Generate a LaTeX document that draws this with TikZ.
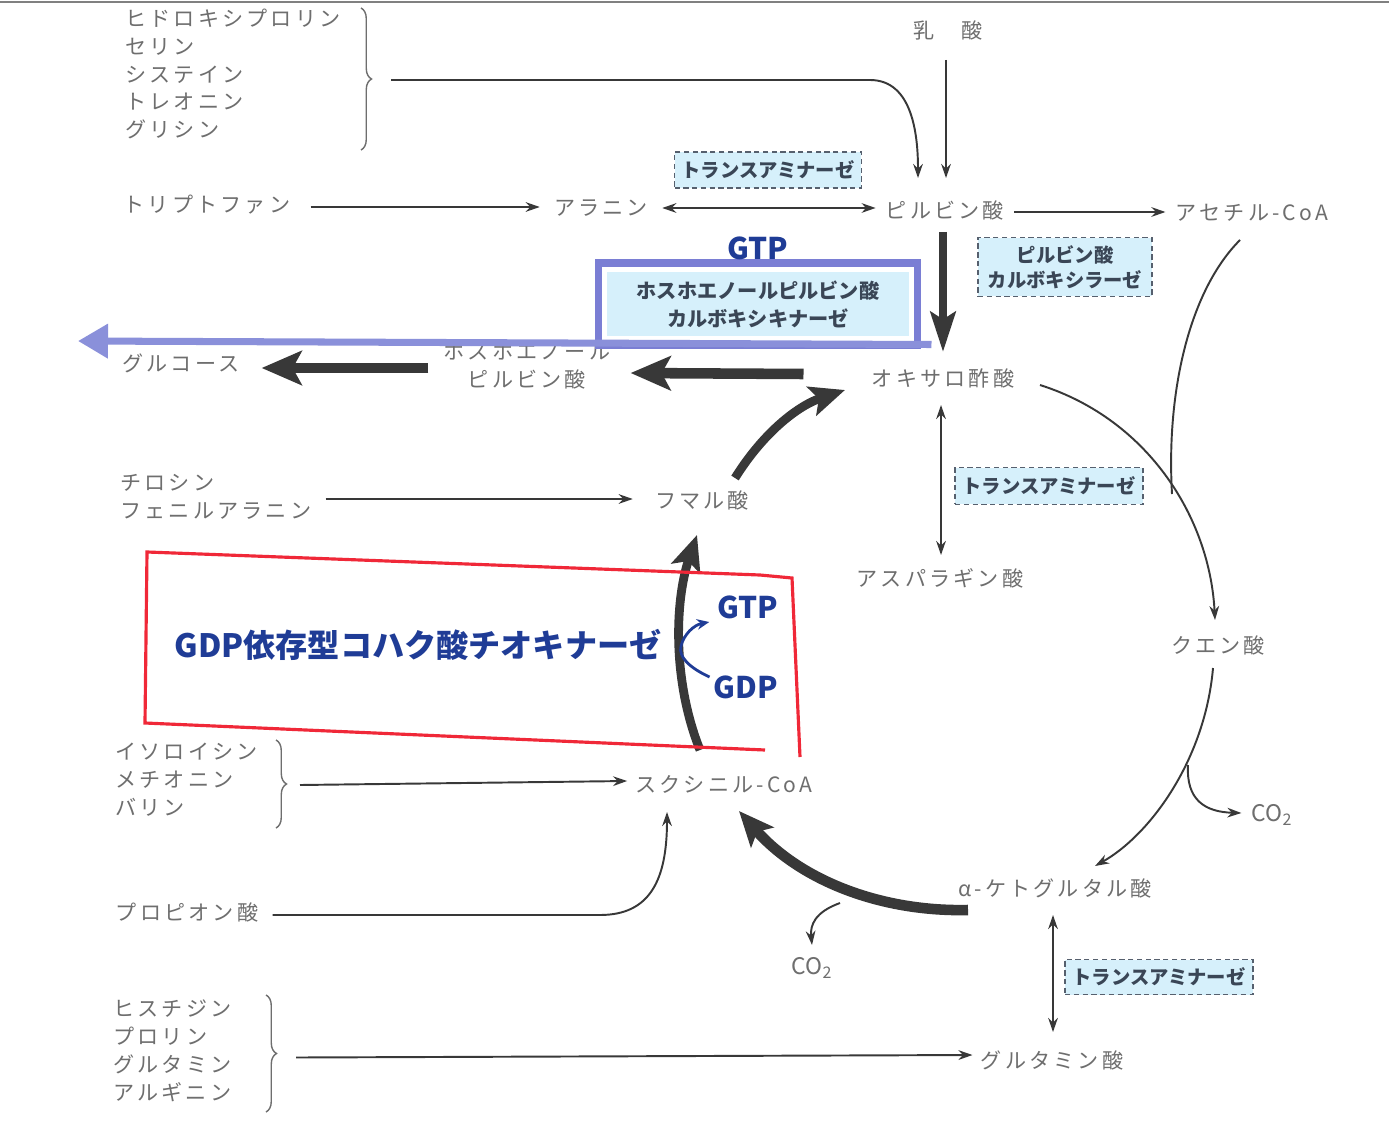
\documentclass[tikz,border=0pt]{standalone}
\usepackage{fontspec}
\setmainfont{Noto Sans CJK JP}
\newfontfamily\jpl[LetterSpace=15]{Noto Sans CJK JP}
\usetikzlibrary{arrows.meta,decorations.pathreplacing,calc}
\definecolor{labgray}{HTML}{6E6E6E}
\definecolor{arrgray}{HTML}{383838}
\definecolor{enzfill}{HTML}{D6F0FB}
\definecolor{enzline}{HTML}{56606E}
\definecolor{enztext}{HTML}{3A4656}
\definecolor{bluetxt}{HTML}{1F3C96}
\definecolor{blueline}{HTML}{8A90DA}
\definecolor{pepbord}{HTML}{7A7ED4}
\definecolor{redbox}{HTML}{F02838}
\tikzset{
  lbl/.style={text=labgray, font=\jpl\fontsize{12}{15.9}\selectfont, inner sep=0pt, align=left},
  enz/.style={draw=enzline, densely dashed, line width=0.8pt, fill=enzfill, text=enztext,
              font=\bfseries\fontsize{11}{14}\selectfont, inner sep=0pt, align=center},
  thinarr/.style={draw=arrgray, line width=1.1pt, -{Stealth[length=8pt,width=5.5pt]}},
  dblarr/.style={draw=arrgray, line width=1.1pt, {Stealth[length=8pt,width=5.5pt]}-{Stealth[length=8pt,width=5.5pt]}},
  thickarr/.style={draw=arrgray, line width=6pt, -{Stealth[length=0.8cm,width=0.68cm,inset=0.18cm]}},
  vthick/.style={draw=arrgray, line width=4.5pt, -{Stealth[length=0.8cm,width=0.5cm,inset=0.15cm]}},
  cycthick/.style={draw=arrgray, line width=5pt, -{Stealth[length=0.7cm,width=0.6cm,inset=0.15cm]}},
  brc/.style={decorate, decoration={brace, amplitude=6pt}, draw=labgray, line width=0.8pt},
  bluet/.style={text=bluetxt, font=\bfseries\fontsize{17}{20}\selectfont, inner sep=0pt},
  co2/.style={text=labgray, font=\fontsize{13}{15}\selectfont, inner sep=0pt}
}
\begin{document}
\begin{tikzpicture}[x=0.02cm,y=-0.02cm]
\useasboundingbox (0,0) rectangle (1389,1125);
\fill[white] (0,0) rectangle (1389,1125);
\draw[gray, line width=1.5pt] (0,2) -- (1389,2);

% ---------- labels ----------
\node[lbl, anchor=west] (list1) at (125,74) {ヒドロキシプロリン\\セリン\\システイン\\トレオニン\\グリシン};
\node[lbl] (lac) at (948,30) {乳　酸};
\node[lbl] (trp) at (207,205) {トリプトファン};
\node[lbl] (ala) at (601,208) {アラニン};
\node[lbl] (pyr) at (945,210) {ピルビン酸};
\node[lbl] (acoa) at (1252,213) {アセチル-CoA};
\node[lbl] (glc) at (181,363) {グルコース};
\node[lbl, align=center] (pep) at (527,366) {ホスホエノール\\ピルビン酸};
\node[lbl] (oaa) at (943,378) {オキサロ酢酸};
\node[lbl, anchor=west] (list2) at (120,497) {チロシン\\フェニルアラニン};
\node[lbl] (fum) at (702,500) {フマル酸};
\node[lbl] (asp) at (940,578) {アスパラギン酸};
\node[lbl] (cit) at (1218,645) {クエン酸};
\node[lbl, anchor=west] (list3) at (115,780) {イソロイシン\\メチオニン\\バリン};
\node[lbl] (suc) at (724,784) {スクシニル-CoA};
\node[co2] (co2a) at (1272,815) {CO\textsubscript{2}};
\node[lbl] (akg) at (1055,888) {α-ケトグルタル酸};
\node[lbl] (prop) at (187,912) {プロピオン酸};
\node[co2] (co2b) at (812,968) {CO\textsubscript{2}};
\node[lbl, anchor=west] (list4) at (113,1051) {ヒスチジン\\プロリン\\グルタミン\\アルギニン};
\node[lbl] (glu) at (1052,1060) {グルタミン酸};

% ---------- enzymes ----------
\node[enz, minimum width=3.74cm, minimum height=0.72cm] (e1) at (768,170) {トランスアミナーゼ};
\node[enz, minimum width=3.48cm, minimum height=1.18cm] (e2) at (1065,267) {ピルビン酸\\カルボキシラーゼ};
\node[draw=pepbord, line width=4pt, minimum width=6.4cm, minimum height=1.64cm, inner sep=0pt] (e3out) at (758,304) {};
\node[enz, draw=none, minimum width=6.05cm, minimum height=1.3cm, font=\bfseries\fontsize{11.5}{16}\selectfont] (e3) at (758,304) {ホスホエノールピルビン酸\\カルボキシキナーゼ};
\node[enz, minimum width=3.76cm, minimum height=0.74cm] (e4) at (1049,486) {トランスアミナーゼ};
\node[enz, minimum width=3.76cm, minimum height=0.7cm] (e5) at (1159,977) {トランスアミナーゼ};
\node[bluet] (gtp1) at (758,248) {GTP};

% ---------- braces ----------
\draw[brc] (361,8) -- (361,150) coordinate[midway] (b1);
\draw[brc] (276,740) -- (276,828) coordinate[midway] (b3);
\draw[brc] (266,995) -- (266,1112) coordinate[midway] (b4);
\coordinate (b1t) at ($(b1)+(30,1)$);
\coordinate (b3t) at ($(b3)+(24,1)$);
\coordinate (b4t) at ($(b4)+(30,4)$);

% ---------- thin arrows ----------
\draw[thinarr] (b1t) -- (870,80) to[out=0,in=90] ($(pyr)+(-27,-32)$);
\draw[thinarr] ($(lac)+(-2,30)$) -- ($(pyr)+(1,-32)$);
\draw[thinarr] ($(trp.east)+(20,2)$) -- ($(ala.west)+(-14,-1)$);
\draw[dblarr] ($(ala.east)+(14,0)$) -- ($(pyr.west)+(-10,-2)$);
\draw[thinarr] ($(pyr.east)+(10,2)$) -- ($(acoa.west)+(-10,-1)$);
\draw[thinarr] ($(list2.east)+(14,2)$) -- ($(fum.west)+(-22,-1)$);
\draw[thinarr] (b3t) -- ($(suc.west)+(-8,-3)$);
\draw[thinarr] ($(prop.east)+(14,3)$) -- (600,915) .. controls (650,915) and (667,880) .. ($(suc)+(-57,28)$);
\draw[thinarr] (b4t) -- ($(glu.west)+(-8,-5)$);
\draw[dblarr] ($(oaa)+(-2,27)$) -- ($(asp)+(1,-23)$);
\draw[dblarr] ($(akg)+(-2,27)$) -- ($(glu)+(1,-28)$);

% cycle thin arcs
\draw[thinarr] ($(oaa)+(97,7)$) .. controls (1150,420) and (1210,520) .. ($(cit)+(-3,-25)$);
\draw[draw=arrgray, line width=1.1pt] ($(acoa)+(-12,27)$) .. controls (1190,290) and (1166,390) .. (1172,494);
\draw[thinarr] ($(cit)+(-5,23)$) .. controls (1205,760) and (1150,835) .. ($(akg)+(40,-22)$);
\draw[thinarr] (1188,765) .. controls (1186,800) and (1205,812) .. ($(co2a.west)+(-10,-2)$);
\draw[thinarr] (840,903) .. controls (815,912) and (810,925) .. ($(co2b.north)+(0,-12)$);

% ---------- thick arrows ----------
\draw[vthick] ($(pyr)+(-2,22)$) -- ($(oaa)+(0,-26)$);
\draw[thickarr] ($(oaa.west)+(-68,-4)$) -- ($(pep.east)+(20,7)$);
\draw[thickarr] ($(pep.west)+(-15,2)$) -- ($(glc.east)+(22,5)$);
\draw[cycthick] ($(fum)+(33,-22)$) .. controls (765,430) and (800,405) .. ($(oaa)+(-98,12)$);
\draw[cycthick] ($(suc)+(-24,-34)$) .. controls (672,680) and (675,600) .. ($(fum)+(-5,35)$);
\draw[cycthick, line width=6pt] ($(akg)+(-87,22)$) .. controls (880,912) and (800,880) .. ($(suc)+(15,27)$);

% ---------- PEPCK blue arrow ----------
\draw[blueline, line width=4pt, -{Triangle[length=0.6cm,width=0.66cm]}] (e3out.south east) ++(10,-4) -- (78,341);

% ---------- red box & GDP/GTP ----------
\draw[redbox, line width=1.8pt] (800,757) -- (792,578) -- (760,575) -- (147,552) -- (145,723) -- (765,750);
\node[text=bluetxt, font=\bfseries\fontsize{18.3}{22}\selectfont, inner sep=0pt] (sct) at (418,645) {GDP依存型コハク酸チオキナーゼ};
\node[bluet] (gtp2) at (748,607) {GTP};
\node[bluet] (gdp) at (746,687) {GDP};
\draw[bluetxt, line width=1.6pt, -{Stealth[length=7pt,width=6pt]}] ($(gdp.west)+(-4,-10)$) .. controls (690,668) and (678,657) .. (681,646) .. controls (684,634) and (694,625) .. ($(gtp2.west)+(-8,15)$);

\end{tikzpicture}
\end{document}
